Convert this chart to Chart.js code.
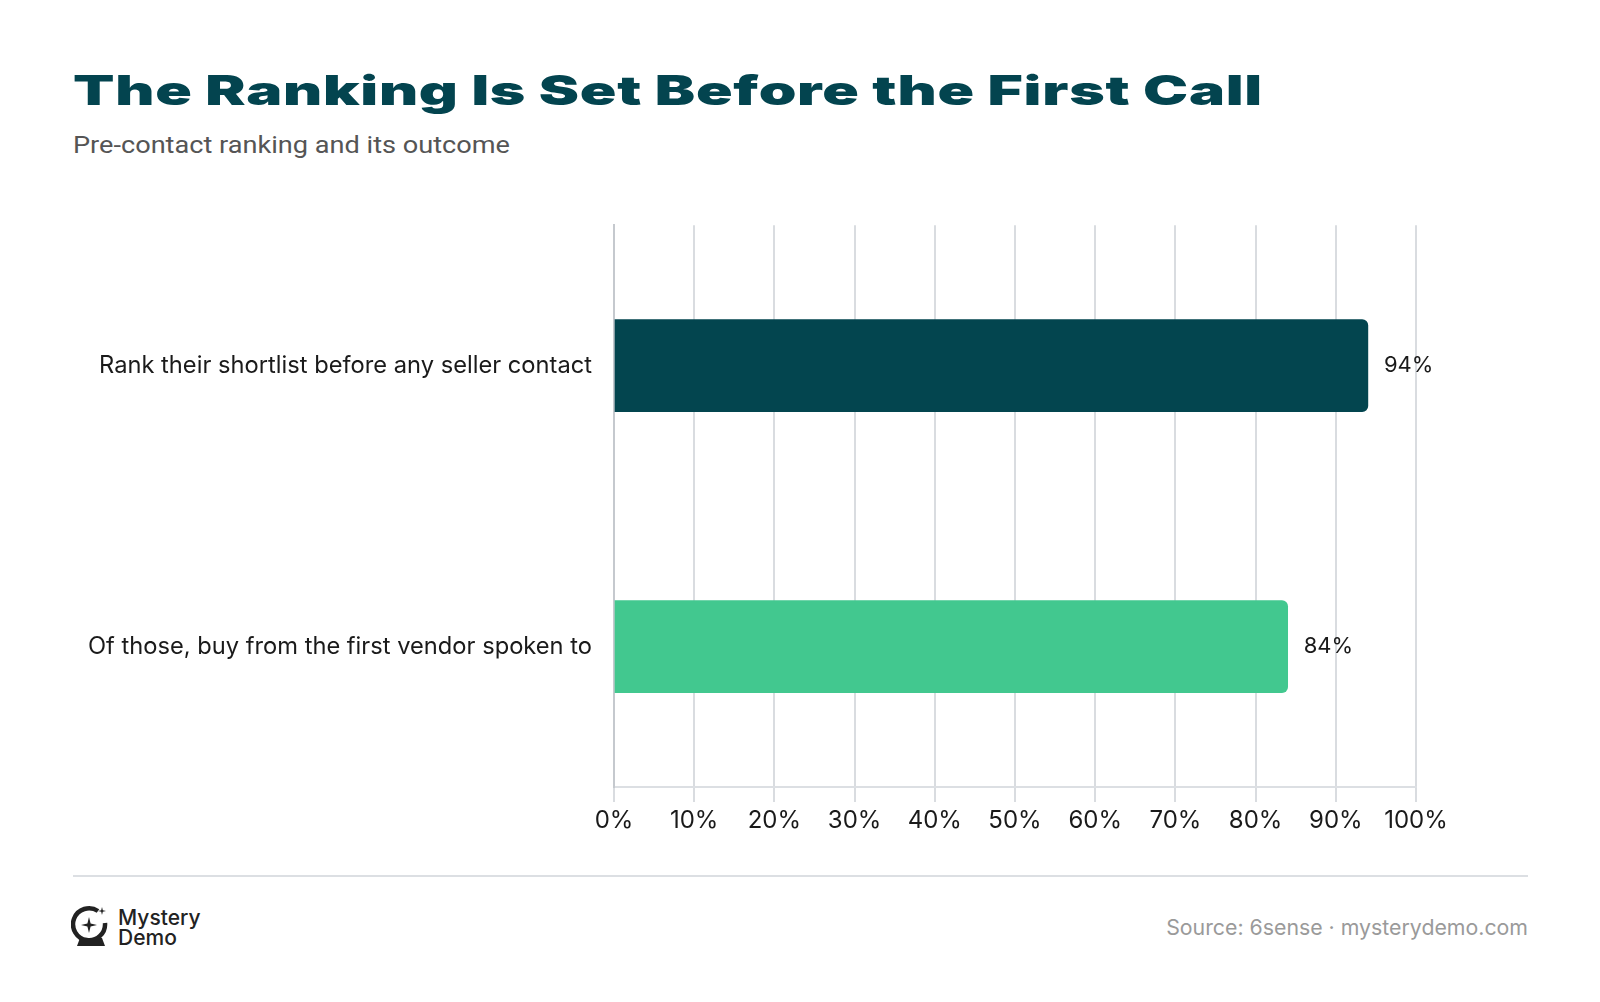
<!DOCTYPE html>
<html>
<head>
<meta charset="utf-8">
<script src="https://cdn.jsdelivr.net/npm/chart.js@4.4.1/dist/chart.umd.min.js"></script>
<style>
  html, body { margin: 0; padding: 0; background: #fff; }
  body { width: 1600px; height: 1002px; position: relative; overflow: hidden; font-family: Inter, "Noto Sans", sans-serif; }
  #title { position: absolute; left: 73px; top: 65px; font-family: Inter, sans-serif; font-weight: 900; font-size: 41px; color: #03444f; white-space: nowrap; transform-origin: left top; letter-spacing: 0.5px; }
  #subtitle { position: absolute; left: 73px; top: 131px; font-family: Roboto, sans-serif; font-size: 24px; color: #555; white-space: nowrap; transform-origin: left top; }
  #chartBox { position: absolute; left: 0; top: 197px; width: 1600px; height: 663px; }
  #rule { position: absolute; left: 73px; top: 875px; width: 1455px; height: 2px; background: #dcdfe3; }
  #logo { position: absolute; left: 71px; top: 905px; }
  #brand { position: absolute; left: 118px; top: 908px; font-family: Inter, sans-serif; font-weight: 500; font-size: 21px; line-height: 20px; color: #222; }
  #source { position: absolute; right: 72px; top: 914px; font-family: Inter, sans-serif; font-size: 21.3px; color: #9a9a9a; }
</style>
</head>
<body>
<div id="title">The Ranking Is Set Before the First Call</div>
<div id="subtitle">Pre-contact ranking and its outcome</div>
<div id="chartBox"><canvas id="rankChart"></canvas></div>
<div id="rule"></div>
<svg id="logo" width="40" height="42" viewBox="0 0 40 42">
  <path d="M27 6 A16 16 0 1 0 34 18" fill="none" stroke="#222" stroke-width="4.5" stroke-linecap="butt"/>
  <path d="M18 12 L19.6 18.4 L26 20 L19.6 21.6 L18 28 L16.4 21.6 L10 20 L16.4 18.4 Z" fill="#222"/>
  <path d="M31 2 L31.8 5.2 L35 6 L31.8 6.8 L31 10 L30.2 6.8 L27 6 L30.2 5.2 Z" fill="#222"/>
  <path d="M9 33 L31 33 L34 41 L6 41 Z" fill="#222"/>
</svg>
<div id="brand">Mystery<br>Demo</div>
<div id="source">Source: 6sense · mysterydemo.com</div>

<script>
// Dados do gráfico
const categorias = ['Rank their shortlist before any seller contact', 'Of those, buy from the first vendor spoken to'];
const valores = [94, 84];
const coresBarras = ['#03454f', '#42c88f'];
const ticksX = [0, 10, 20, 30, 40, 50, 60, 70, 80, 90, 100];

// Ajustar largura do título (fonte expandida)
function ajustarTexto(id, larguraAlvo) {
    const el = document.getElementById(id);
    const w = el.getBoundingClientRect().width;
    el.style.transform = 'scaleX(' + (larguraAlvo / w) + ')';
}
ajustarTexto('title', 1190);
ajustarTexto('subtitle', 437);

// Rótulos de valor no fim das barras
const rotulosValor = {
    id: 'rotulosValor',
    afterDatasetsDraw(chart) {
        const ctx = chart.ctx;
        const meta = chart.getDatasetMeta(0);
        ctx.save();
        ctx.font = '22px Inter, sans-serif';
        ctx.fillStyle = '#1a1a1a';
        ctx.textAlign = 'left';
        ctx.textBaseline = 'middle';
        meta.data.forEach((bar, i) => {
            ctx.fillText(valores[i] + '%', bar.x + 16, bar.y);
        });
        ctx.restore();
    }
};

const ctx = document.getElementById('rankChart').getContext('2d');
new Chart(ctx, {
    type: 'bar',
    data: {
        labels: categorias,
        datasets: [{
            data: valores,
            backgroundColor: coresBarras,
            borderRadius: 6,
            borderSkipped: 'start',
            barThickness: 92
        }]
    },
    options: {
        indexAxis: 'y',
        responsive: true,
        maintainAspectRatio: false,
        animation: false,
        layout: { padding: { left: 0, right: 184, top: 11, bottom: 0 } },
        plugins: {
            legend: { display: false },
            tooltip: { enabled: false }
        },
        scales: {
            x: {
                min: 0,
                max: 100,
                afterBuildTicks(scale) {
                    scale.ticks = ticksX.map(v => ({ value: v }));
                },
                afterFit(scale) { scale.height = 73; },
                ticks: {
                    callback: v => v + '%',
                    font: { family: 'Inter, sans-serif', size: 24 },
                    color: '#1a1a1a',
                    padding: 4,
                    maxRotation: 0
                },
                grid: { color: '#d9dce0', lineWidth: 2, tickLength: 15, drawTicks: true },
                border: { display: true, color: '#dcdfe3', width: 2 }
            },
            y: {
                afterFit(scale) { scale.width = 614; },
                ticks: {
                    font: { family: 'Inter, sans-serif', size: 23.7 },
                    color: '#1a1a1a',
                    padding: 14
                },
                grid: { display: false },
                border: { display: true, color: '#c5c9ce', width: 2 }
            }
        }
    },
    plugins: [rotulosValor]
});
</script>
</body>
</html>
